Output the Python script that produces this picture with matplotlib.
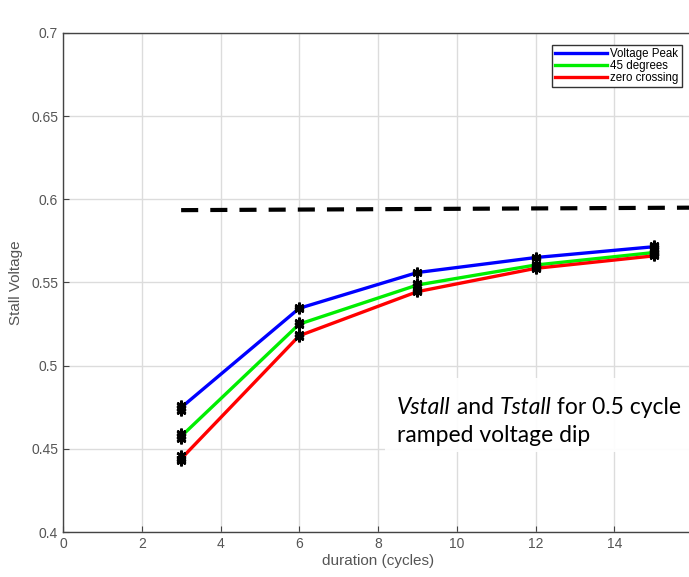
import matplotlib
matplotlib.use("Agg")
import matplotlib.pyplot as plt
from matplotlib.patches import Rectangle

durations = [3, 6, 9, 12, 15]
voltage_peak = [0.4748, 0.5345, 0.5560, 0.5650, 0.5715]
deg45 = [0.4575, 0.5250, 0.5485, 0.5605, 0.5680]
zero_crossing = [0.4440, 0.5180, 0.5445, 0.5585, 0.5660]
# repeated samples (stars) at each duration
peak_runs = [[0.4765, 0.4748, 0.4730], [0.5355, 0.5340], [0.5565, 0.5555], [0.5655, 0.5648], [0.5725, 0.5712, 0.5700]]
deg45_runs = [[0.4595, 0.4575, 0.4560], [0.5260, 0.5245], [0.5495, 0.5480], [0.5610, 0.5600], [0.5685, 0.5675]]
zero_runs = [[0.4460, 0.4440, 0.4425], [0.5190, 0.5175], [0.5450, 0.5440], [0.5590, 0.5580], [0.5670, 0.5660]]
limit_x = [3, 16]
limit_y = [0.5935, 0.5950]
series_labels = ["Voltage Peak", "45 degrees", "zero crossing"]

plt.rcParams["font.family"] = ["Liberation Sans", "DejaVu Sans"]

fig = plt.figure(figsize=(6.89, 5.77), dpi=100)
ax = fig.add_axes([63/689, 1-532/577, (693-63)/689, (532-33)/577])

ax.set_xlim(0, 16)
ax.set_ylim(0.4, 0.7)
ax.set_xticks([0, 2, 4, 6, 8, 10, 12, 14])
ax.set_yticks([0.4, 0.45, 0.5, 0.55, 0.6, 0.65, 0.7])
ax.set_yticklabels(["0.4", "0.45", "0.5", "0.55", "0.6", "0.65", "0.7"])
ax.grid(True, color="#dcdcdc", linewidth=1.0)
ax.set_axisbelow(True)
for s in ax.spines.values():
    s.set_color("#444444")
    s.set_linewidth(1.0)
ax.spines["right"].set_visible(False)
ax.tick_params(direction="in", colors="#444444", labelcolor="#555555", labelsize=10, length=4)

ax.plot(limit_x, limit_y, color="black", linestyle=(0, (4.1, 2.9)), linewidth=3.0, zorder=3)

cols = ["#0000ff", "#00ee00", "#ff0000"]
for vals, runs, c, lab in zip([voltage_peak, deg45, zero_crossing], [peak_runs, deg45_runs, zero_runs], cols, series_labels):
    ax.plot(durations, vals, color=c, linewidth=2.4, label=lab, zorder=4)
    for x, r in zip(durations, runs):
        ax.plot([x]*len(r), r, linestyle="none", marker=(6, 2, 0), color="black",
                markeredgewidth=1.8, markersize=7, zorder=5)

leg = ax.legend(loc="upper right", bbox_to_anchor=(0.982, 0.975), fontsize=8.3, handlelength=4.5,
                handletextpad=0.3, borderpad=0.25, labelspacing=0.0, fancybox=False, framealpha=1,
                edgecolor="#333333", borderaxespad=0)
leg.get_frame().set_linewidth(1.0)

ax.set_xlabel("duration (cycles)", fontsize=11, color="#555555", labelpad=2)
ax.set_ylabel("Stall Voltage", fontsize=11, color="#555555", labelpad=6)

# annotation box
fig.patches.append(Rectangle((385/689, 1-452/577), 304/689, 74/577, transform=fig.transFigure,
                             facecolor="white", edgecolor="none", alpha=0.93, zorder=10))
fam = ["Lato", "DejaVu Sans"]
fs = 16.5
y1 = 1 - 407/577
t1 = fig.text(397/689, y1, "Vstall", fontsize=fs, style="italic", family=fam, va="center", zorder=11)
fig.canvas.draw()
r = fig.canvas.get_renderer()
bb = t1.get_window_extent(r)
x = bb.x1 / fig.bbox.width
t2 = fig.text(x, y1, " and ", fontsize=fs, family=fam, va="center", zorder=11)
bb = t2.get_window_extent(r); x = bb.x1 / fig.bbox.width
t3 = fig.text(x, y1, "Tstall", fontsize=fs, style="italic", family=fam, va="center", zorder=11)
bb = t3.get_window_extent(r); x = bb.x1 / fig.bbox.width
fig.text(x, y1, " for 0.5 cycle", fontsize=fs, family=fam, va="center", zorder=11)
fig.text(397/689, 1 - 436/577, "ramped voltage dip", fontsize=fs, family=fam, va="center", zorder=11)

fig.savefig("out.png", dpi=100)
